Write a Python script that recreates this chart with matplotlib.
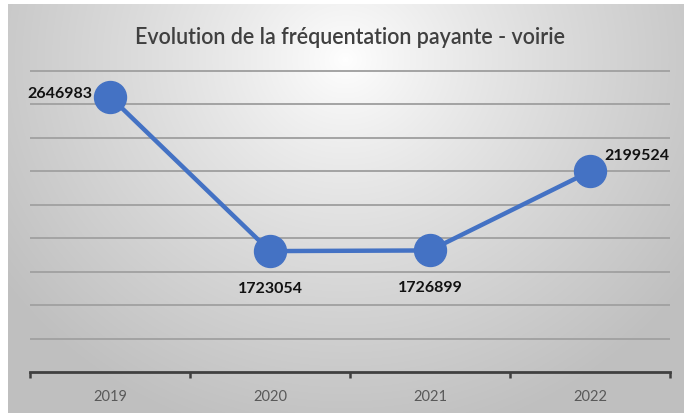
import numpy as np
import matplotlib
matplotlib.use("Agg")
import matplotlib.pyplot as plt

years = ["2019", "2020", "2021", "2022"]
values = [2646983, 1723054, 1726899, 2199524]
label_offsets = [(-18, 4, "right", "center"), (0, -37, "center", "center"),
                 (0, -37, "center", "center"), (14, 16, "left", "center")]
title = "Evolution de la fréquentation payante - voirie"

W, H, DPI = 684, 414, 100
fig = plt.figure(figsize=(W / DPI, H / DPI), dpi=DPI)
fig.patch.set_facecolor("white")

# background gradient panel
bg = fig.add_axes([8 / W, 0, 1 - 8 / W, 1 - 5 / H])
bg.set_axis_off()
yy, xx = np.mgrid[0:409, 0:676]
cx, cy = 337, 55
r = np.sqrt(((xx - cx) / 420.0) ** 2 + ((yy - cy) / 390.0) ** 2)
v = 1 - 0.25 * np.clip(r, 0, 1) ** 0.85
img = np.dstack([v, v, v])
bg.imshow(img, aspect="auto", extent=[0, 1, 0, 1], origin="upper")
bg.set_xlim(0, 1)
bg.set_ylim(0, 1)

ax = fig.add_axes([30 / W, (H - 373) / H, 640 / W, 301 / H])
ax.patch.set_alpha(0)
x = np.arange(len(years))
ax.set_xlim(-0.5, len(years) - 0.5)
ax.set_ylim(1000000, 2800000)

grid_vals = np.arange(1200000, 2800001, 200000)
ax.hlines(grid_vals, -0.5, len(years) - 0.5, colors="#a3a3a3", linewidth=1.4,
          clip_on=False, zorder=1)

ax.plot(x, values, color="#4472C4", linewidth=3.2, marker="o", markersize=23,
        zorder=3, clip_on=False)

for xi, val, (dx, dy, ha, va) in zip(x, values, label_offsets):
    ax.annotate(str(val), (xi, val), xytext=(dx, dy), textcoords="offset pixels",
                ha=ha, va=va, fontsize=11.5, fontweight="bold", color="#111111",
                family=["Lato", "DejaVu Sans"], zorder=4)

for s in ["top", "right", "left"]:
    ax.spines[s].set_visible(False)
ax.spines["bottom"].set_color("#404040")
ax.spines["bottom"].set_linewidth(2)
ax.set_yticks([])
ax.set_xticks(x)
ax.set_xticklabels(years, fontsize=10.5, color="#595959", family=["Lato", "DejaVu Sans"])
ax.tick_params(axis="x", which="major", length=0, pad=12)
ax.set_xticks(np.arange(-0.5, len(years), 1.0), minor=True)
ax.tick_params(axis="x", which="minor", length=4, width=1.8, color="#404040", direction="out")

fig.text(350 / W, 1 - 38 / H, title, ha="center", va="center", fontsize=15.5,
         fontweight="semibold", color="#404040", family=["Lato", "DejaVu Sans"])

fig.savefig("out.png", dpi=DPI)
